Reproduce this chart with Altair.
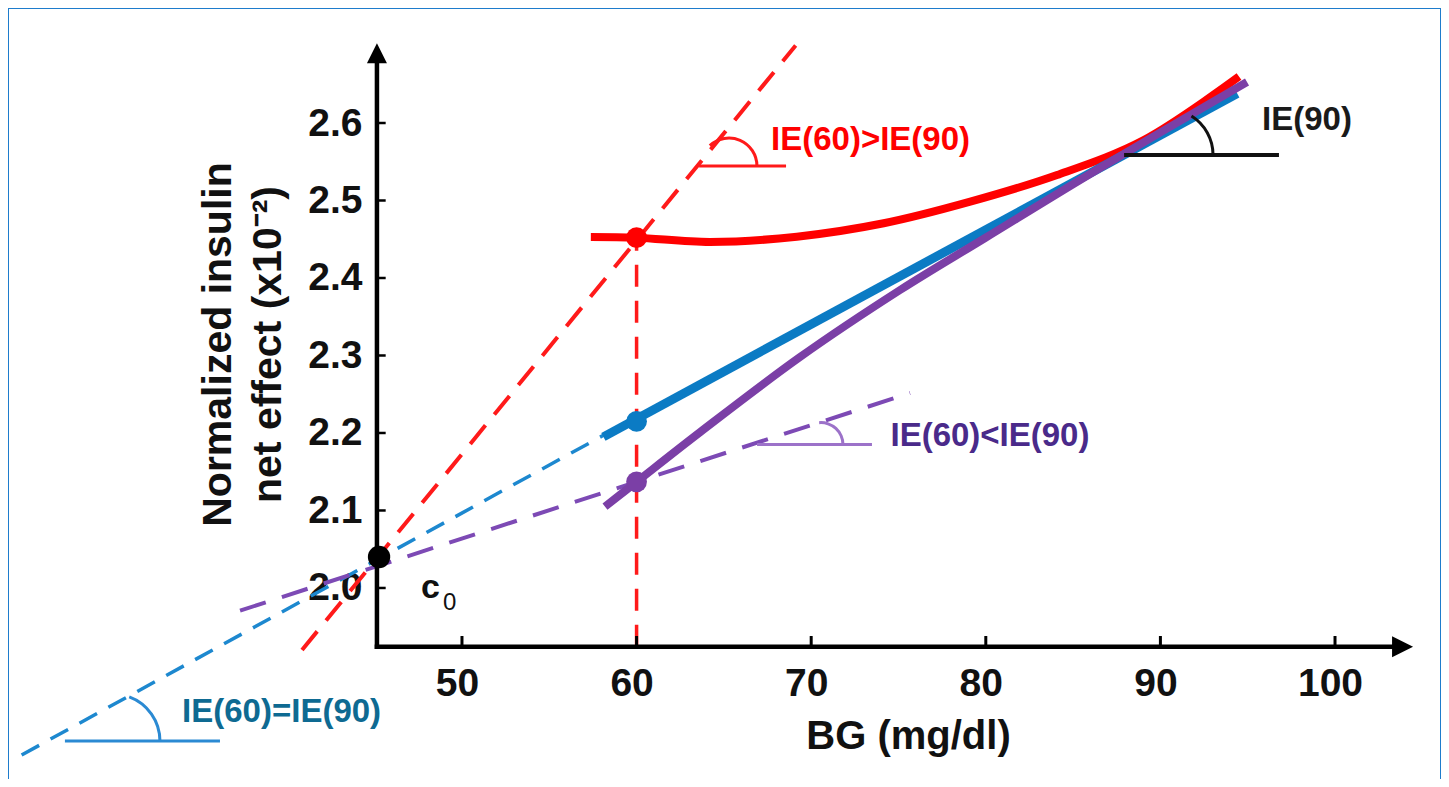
import altair as alt
import pandas as pd

FONT = "Liberation Sans"

# ---------------- scales / axes ----------------
x_domain = [24.0, 106.07]
y_domain = [1.7535, 2.7484]
x_tick_values = [50, 60, 70, 80, 90, 100]
y_tick_values = [2.0, 2.1, 2.2, 2.3, 2.4, 2.5, 2.6]

axis_x0 = 45.13      # BG value where the vertical axis stands
axis_y0 = 1.924      # effect value where the horizontal axis stands
x_axis_end = 103.3   # end of horizontal axis line (arrow base)
y_axis_end = 2.678   # end of vertical axis line (arrow base)
x_arrow = 103.87
y_arrow = 2.690

# ---------------- curves ----------------
red_curve_x = [57.38, 60.0, 64.21, 69.18, 74.15, 79.11, 84.08, 89.05, 94.5]
red_curve_y = [2.453, 2.452, 2.4465, 2.4533, 2.4706, 2.4985, 2.5329, 2.5781, 2.660]
blue_line_x = [58.1, 94.4]
blue_line_y = [2.195, 2.638]
purple_curve_x = [58.19, 60.0, 63.63, 69.36, 75.09, 79.96, 86.54, 94.96]
purple_curve_y = [2.105, 2.137, 2.201, 2.298, 2.3845, 2.4516, 2.5419, 2.653]

# dashed tangent lines  [x1, y1, x2, y2]
red_tangent = [40.84, 1.920, 69.11, 2.700]
blue_tangent = [24.78, 1.7845, 58.1, 2.197]
purple_tangent = [37.29, 1.9707, 75.66, 2.2516]
bg60_line = [60.0, 1.924, 60.0, 2.452]

# points at BG = 60 and c0
dot_x = [60.0, 60.0, 60.0]
dot_y = [2.452, 2.215, 2.137]
dot_colors = ["#ff0000", "#0b7bc4", "#7b3fa6"]
c0_point = [45.25, 2.040]

# angle markers: horizontal leg [x1, x2, y], arc centre [x, y]
red_leg = [63.58, 68.56, 2.5445]
red_arc = [65.29, 2.5445]
purple_leg = [66.90, 73.48, 2.185]
purple_arc = [70.56, 2.185]
black_leg = [87.92, 96.79, 2.5587]
black_arc = [90.38, 2.5587]
blue_leg = [27.26, 36.14, 1.8026]
blue_arc = [30.01, 1.8026]

# labels
label_text = ["IE(60)>IE(90)", "IE(90)", "IE(60)<IE(90)", "IE(60)=IE(90)"]
label_x = [67.70, 95.82, 74.54, 33.97]
label_y = [2.5652, 2.591, 2.1832, 1.8275]
label_colors = ["#ff0000", "#1a1a1a", "#4a2a8a", "#0e6a92"]

# ---------------- helpers ----------------
xs = alt.Scale(domain=x_domain, nice=False, zero=False)
ys = alt.Scale(domain=y_domain, nice=False, zero=False)

x_axis = alt.Axis(
    values=x_tick_values, domain=False, ticks=False, tickSize=0, grid=False,
    offset=-132, labelFont=FONT, labelFontSize=39, labelFontWeight="bold",
    labelColor="#111111", labelPadding=48, labelBaseline="alphabetic",
    labelOffset=-5, labelFlush=False, labelOverlap=False,
    title="BG (mg/dl)", titleFont=FONT, titleFontSize=40, titleFontWeight="bold",
    titleColor="#111111", titleX=900, titleY=101, titleBaseline="alphabetic",
    titleAlign="center",
)
y_axis = alt.Axis(
    values=y_tick_values, format=".1f", domain=False, ticks=False, tickSize=0,
    grid=False, offset=-369, labelFont=FONT, labelFontSize=39,
    labelFontWeight="bold", labelColor="#111111", labelPadding=15,
    labelBaseline="middle", labelFlush=False, labelOverlap=False,
    title=["Normalized insulin", "net effect (x10⁻²)"], titleFont=FONT,
    titleFontSize=41, titleFontWeight="bold", titleColor="#111111",
    titleAngle=270, titleX=-159, titleY=336, titleBaseline="middle",
    titleAlign="center", titleLineHeight=50,
)


def X(f="x"):
    return alt.X(f"{f}:Q", scale=xs, axis=x_axis)


def Y(f="y"):
    return alt.Y(f"{f}:Q", scale=ys, axis=y_axis)


def segment(vals, color, width, dash=None, cap="butt", clip=True):
    df = pd.DataFrame({"x": [vals[0]], "y": [vals[1]], "x2": [vals[2]], "y2": [vals[3]]})
    kw = dict(color=color, strokeWidth=width, strokeCap=cap, clip=clip)
    if dash is not None:
        kw["strokeDash"] = dash
    return alt.Chart(df).mark_rule(**kw).encode(
        x=X(), y=Y(), x2=alt.X2("x2:Q"), y2=alt.Y2("y2:Q")
    )


def curve(xv, yv, color, width):
    df = pd.DataFrame({"x": xv, "y": yv})
    return alt.Chart(df).mark_line(
        color=color, strokeWidth=width, interpolate="catmull-rom", strokeCap="butt", clip=True
    ).encode(x=X(), y=Y())


def leg(vals, color, width):
    return segment([vals[0], vals[2], vals[1], vals[2]], color, width)


def arc(centre, r, t1, t2, color, width):
    df = pd.DataFrame({"x": [centre[0]], "y": [centre[1]]})
    return alt.Chart(df).mark_arc(
        innerRadius=r - width / 2, outerRadius=r + width / 2, theta=t1, theta2=t2,
        color=color,
    ).encode(x=X(), y=Y())


def text(txt, x, y, color, size, weight="bold", align="left"):
    df = pd.DataFrame({"x": [x], "y": [y], "t": [txt]})
    return alt.Chart(df).mark_text(
        font=FONT, fontSize=size, fontWeight=weight, color=color, align=align,
        baseline="alphabetic",
    ).encode(x=X(), y=Y(), text="t:N")


layers = []

# frame
layers.append(segment([x_domain[0], y_domain[0], x_domain[0], y_domain[1]], "#1e7ccc", 2, clip=False))
layers.append(segment([x_domain[1], y_domain[0], x_domain[1], y_domain[1]], "#1e7ccc", 2, clip=False))
layers.append(segment([x_domain[0], y_domain[1], x_domain[1], y_domain[1]], "#1e7ccc", 2, clip=False))

# dashed lines
layers.append(segment(blue_tangent, "#1d88cf", 3.5, dash=[20, 13]))
layers.append(segment(purple_tangent, "#7d4ab5", 4, dash=[27, 17]))
layers.append(segment(red_tangent, "#ff1a1a", 4, dash=[24, 14]))
layers.append(segment(bg60_line, "#ff1a1a", 3.5, dash=[22, 14]))

# solid curves
layers.append(curve(red_curve_x, red_curve_y, "#ff0000", 8))
layers.append(curve(blue_line_x, blue_line_y, "#0b7bc4", 9))
layers.append(curve(purple_curve_x, purple_curve_y, "#7b3fa6", 8))

# axes lines, ticks, arrows
layers.append(segment([axis_x0, axis_y0, axis_x0, y_axis_end], "#000000", 4.5, cap="square"))
layers.append(segment([axis_x0, axis_y0, x_axis_end, axis_y0], "#000000", 4.5, cap="square"))
ytick_df = pd.DataFrame({"x": [axis_x0] * len(y_tick_values), "x2": [axis_x0 + 0.5] * len(y_tick_values), "y": y_tick_values})
layers.append(alt.Chart(ytick_df).mark_rule(color="#000000", strokeWidth=2.5).encode(x=X(), x2=alt.X2("x2:Q"), y=Y()))
xtick_df = pd.DataFrame({"x": x_tick_values, "y": [axis_y0] * len(x_tick_values), "y2": [axis_y0 + 0.014] * len(x_tick_values)})
layers.append(alt.Chart(xtick_df).mark_rule(color="#000000", strokeWidth=3).encode(x=X(), y=Y(), y2=alt.Y2("y2:Q")))
layers.append(alt.Chart(pd.DataFrame({"x": [axis_x0], "y": [y_arrow]})).mark_point(
    shape="M0,-1L-1,1L1,1Z", size=400, filled=True, color="#000000", opacity=1, strokeWidth=0
).encode(x=X(), y=Y()))
layers.append(alt.Chart(pd.DataFrame({"x": [x_arrow], "y": [axis_y0]})).mark_point(
    shape="M1,0L-1,-1L-1,1Z", size=441, filled=True, color="#000000", opacity=1, strokeWidth=0
).encode(x=X(), y=Y()))

# dots
dots_df = pd.DataFrame({"x": dot_x, "y": dot_y, "c": dot_colors})
layers.append(alt.Chart(dots_df).mark_circle(size=430, opacity=1).encode(
    x=X(), y=Y(), color=alt.Color("c:N", scale=None)))
layers.append(alt.Chart(pd.DataFrame({"x": [c0_point[0]], "y": [c0_point[1]]})).mark_circle(
    size=500, opacity=1, color="#000000").encode(x=X(), y=Y()))

# angle markers
layers.append(leg(red_leg, "#ff1a1a", 3))
layers.append(arc(red_arc, 28, 5.53, 7.854, "#ff1a1a", 3))
layers.append(leg(purple_leg, "#9c72c9", 3))
layers.append(arc(purple_arc, 22, 6.2, 7.854, "#9c72c9", 3))
layers.append(leg(black_leg, "#111111", 4))
layers.append(arc(black_arc, 46, 0.56, 1.571, "#111111", 3))
layers.append(leg(blue_leg, "#2b8ad3", 3))
layers.append(arc(blue_arc, 47, 0.354, 1.571, "#2b8ad3", 3))

# labels
for t, lx, ly, lc in zip(label_text, label_x, label_y, label_colors):
    layers.append(text(t, lx, ly, lc, 33))
layers.append(text("c", 47.65, 1.987, "#111111", 34))
layers.append(text("0", 48.91, 1.9716, "#111111", 24, weight="normal"))

chart = alt.layer(*layers).properties(
    width=1433, height=771, padding=0,
    autosize=alt.AutoSizeParams(type="none"),
    background="#ffffff",
).configure_view(stroke=None)

chart.save("out.html", embed_options={"renderer": "svg", "actions": False})
